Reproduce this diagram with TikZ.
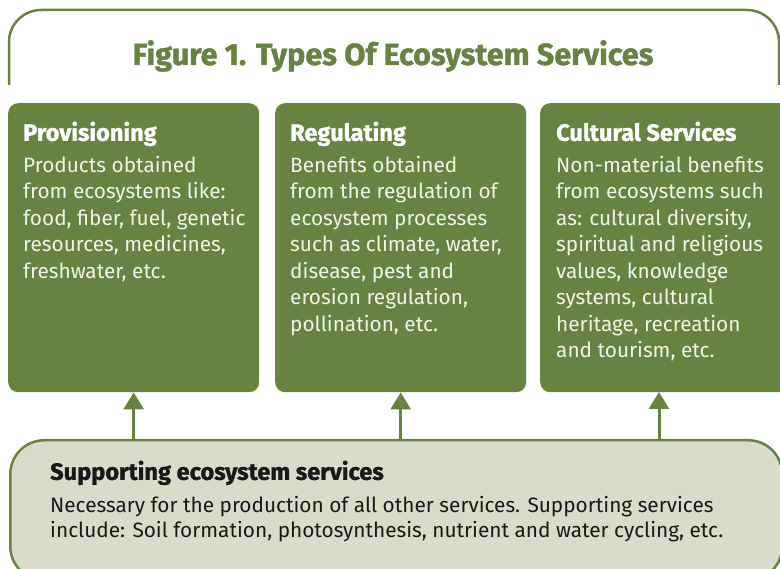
\documentclass[tikz,border=0pt]{standalone}
\usepackage{fontspec}
\setmainfont{Fira Sans}
\newfontfamily\heavy{Fira Sans}[BoldFeatures={FakeBold=1.3}]
\usetikzlibrary{arrows.meta}
\definecolor{leaf}{RGB}{104,130,66}
\definecolor{sage}{RGB}{217,220,202}
\definecolor{cream}{RGB}{242,243,232}
\definecolor{ink}{RGB}{25,25,25}
\newcommand{\hd}[1]{{\fontsize{23.6}{26.5}\selectfont\heavy\bfseries #1}}
\tikzset{
  svcbox/.style={fill=leaf, rounded corners=10pt, inner sep=0pt, anchor=north west},
  svctext/.style={anchor=north west, inner sep=0pt, align=left, text=cream,
    font=\fontsize{20.8}{26.5}\selectfont},
  suptext/.style={anchor=north west, inner sep=0pt, align=left, text=ink,
    font=\fontsize{20.8}{25}\selectfont},
  uparrow/.style={draw=leaf, line width=3pt, -{Triangle[width=20pt,length=17pt]}},
  frameline/.style={draw=leaf, line width=2.5pt, rounded corners=32pt},
}
\begin{document}
\begin{tikzpicture}[x=1pt,y=-1pt]
\useasboundingbox (0,0) rectangle (780,569);
\clip (0,0) rectangle (780,569);
% outer frame
\draw[frameline] (9,85) -- (9,10) -- (779,10) -- (779,85);
\node[anchor=base, text=leaf, font=\fontsize{30.6}{34}\selectfont\heavy\bfseries] (title) at (393,65) {Figure 1. Types Of Ecosystem Services};
% boxes
\node[svcbox, minimum width=251pt, minimum height=289pt] (prov) at (8,103) {};
\node[svcbox, minimum width=251pt, minimum height=289pt] (reg) at (275,103) {};
\node[svcbox, minimum width=270pt, minimum height=289pt] (cult) at (540,103) {};
\node[svctext] (provt) at (23,121.5) {\hd{\color{white}Provisioning}\\[5pt]
Products obtained\\from ecosystems like:\\food, fiber, fuel, genetic\\resources, medicines,\\freshwater, etc.};
\node[svctext] (regt) at (290,121.5) {\hd{\color{white}Regulating}\\[5pt]
Benefits obtained\\from the regulation of\\ecosystem processes\\such as climate, water,\\disease, pest and\\erosion regulation,\\pollination, etc.};
\node[svctext] (cultt) at (556,121.5) {\hd{\color{white}Cultural Services}\\[5pt]
Non-material benefits\\from ecosystems such\\as: cultural diversity,\\spiritual and religious\\values, knowledge\\systems, cultural\\heritage, recreation\\and tourism, etc.};
% supporting
\node[anchor=north west, fill=sage, draw=leaf, line width=2.5pt, rounded corners=34pt,
  minimum width=772pt, minimum height=140pt] (sup) at (9,439) {};
\node[suptext] (supt) at (50,460.5) {\hd{Supporting ecosystem services}\\[8pt]
Necessary for the production of all other services. Supporting services\\include: Soil formation, photosynthesis, nutrient and water cycling, etc.};
% arrows
\coordinate (c3) at (659,392);
\draw[uparrow] (sup.north -| prov.south) -- (prov.south);
\draw[uparrow] (sup.north -| reg.south) -- (reg.south);
\draw[uparrow] (sup.north -| c3) -- (c3);
\end{tikzpicture}
\end{document}
